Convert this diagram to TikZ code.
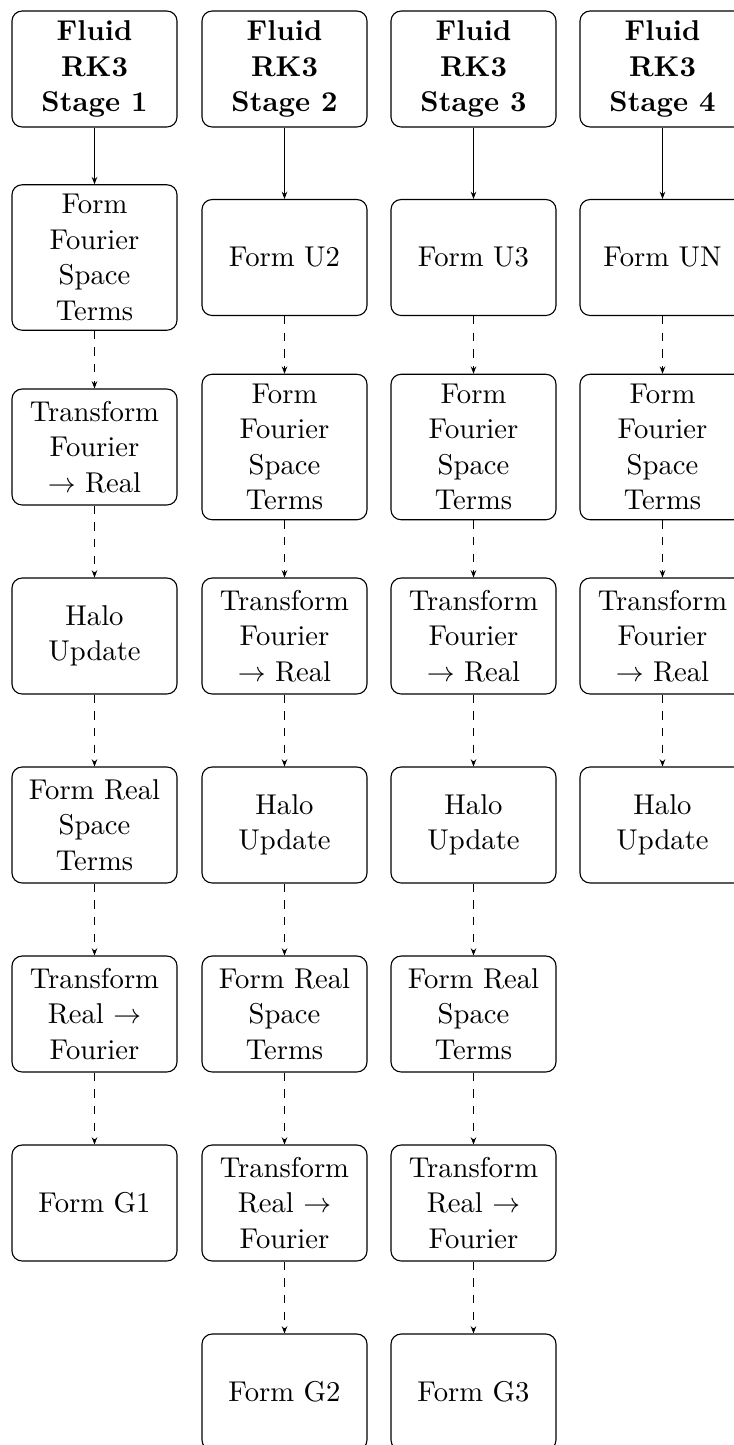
\documentclass[tikz,border=0pt]{standalone}
\usetikzlibrary{arrows.meta}
\begin{document}
\begin{tikzpicture}[x=0.3597pt,y=-0.3597pt,
  box/.style={draw, rounded corners=3.6pt, minimum width=59.35pt, minimum height=41.7pt,
    align=center, inner sep=3.4pt, font=\fontsize{10.3}{12.8}\selectfont},
  hdr/.style={box, font=\fontsize{10.3}{12.8}\selectfont\bfseries},
  flow/.style={-{Stealth[length=2.6pt,width=2pt]}},
  dflow/.style={flow, dashed}]
\clip (0,0) rectangle (734,1445);
% column 1
\node[hdr] (h1) at (94.5,69) {Fluid\\RK3\\Stage 1};
\node[box] (a1) at (94.5,257.5) {Form\\Fourier\\Space\\Terms};
\node[box] (a2) at (94.5,447) {Transform\\Fourier\\$\rightarrow$ Real};
\node[box] (a3) at (94.5,636) {Halo\\Update};
\node[box] (a4) at (94.5,825) {Form Real\\Space\\Terms};
\node[box] (a5) at (94.5,1014) {Transform\\Real $\rightarrow$\\Fourier};
\node[box] (a6) at (94.5,1203) {Form G1};
\draw[flow] (h1) -- (a1);
\draw[dflow] (a1) -- (a2);
\draw[dflow] (a2) -- (a3);
\draw[dflow] (a3) -- (a4);
\draw[dflow] (a4) -- (a5);
\draw[dflow] (a5) -- (a6);
% column 2
\node[hdr] (h2) at (284.5,69) {Fluid\\RK3\\Stage 2};
\node[box] (b1) at (284.5,257.5) {Form U2};
\node[box] (b2) at (284.5,447) {Form\\Fourier\\Space\\Terms};
\node[box] (b3) at (284.5,636) {Transform\\Fourier\\$\rightarrow$ Real};
\node[box] (b4) at (284.5,825) {Halo\\Update};
\node[box] (b5) at (284.5,1014) {Form Real\\Space\\Terms};
\node[box] (b6) at (284.5,1203) {Transform\\Real $\rightarrow$\\Fourier};
\node[box] (b7) at (284.5,1392) {Form G2};
\draw[flow] (h2) -- (b1);
\draw[dflow] (b1) -- (b2);
\draw[dflow] (b2) -- (b3);
\draw[dflow] (b3) -- (b4);
\draw[dflow] (b4) -- (b5);
\draw[dflow] (b5) -- (b6);
\draw[dflow] (b6) -- (b7);
% column 3
\node[hdr] (h3) at (473.5,69) {Fluid\\RK3\\Stage 3};
\node[box] (c1) at (473.5,257.5) {Form U3};
\node[box] (c2) at (473.5,447) {Form\\Fourier\\Space\\Terms};
\node[box] (c3) at (473.5,636) {Transform\\Fourier\\$\rightarrow$ Real};
\node[box] (c4) at (473.5,825) {Halo\\Update};
\node[box] (c5) at (473.5,1014) {Form Real\\Space\\Terms};
\node[box] (c6) at (473.5,1203) {Transform\\Real $\rightarrow$\\Fourier};
\node[box] (c7) at (473.5,1392) {Form G3};
\draw[flow] (h3) -- (c1);
\draw[dflow] (c1) -- (c2);
\draw[dflow] (c2) -- (c3);
\draw[dflow] (c3) -- (c4);
\draw[dflow] (c4) -- (c5);
\draw[dflow] (c5) -- (c6);
\draw[dflow] (c6) -- (c7);
% column 4
\node[hdr] (h4) at (662.5,69) {Fluid\\RK3\\Stage 4};
\node[box] (d1) at (662.5,257.5) {Form UN};
\node[box] (d2) at (662.5,447) {Form\\Fourier\\Space\\Terms};
\node[box] (d3) at (662.5,636) {Transform\\Fourier\\$\rightarrow$ Real};
\node[box] (d4) at (662.5,825) {Halo\\Update};
\draw[flow] (h4) -- (d1);
\draw[dflow] (d1) -- (d2);
\draw[dflow] (d2) -- (d3);
\draw[dflow] (d3) -- (d4);
\end{tikzpicture}
\end{document}
